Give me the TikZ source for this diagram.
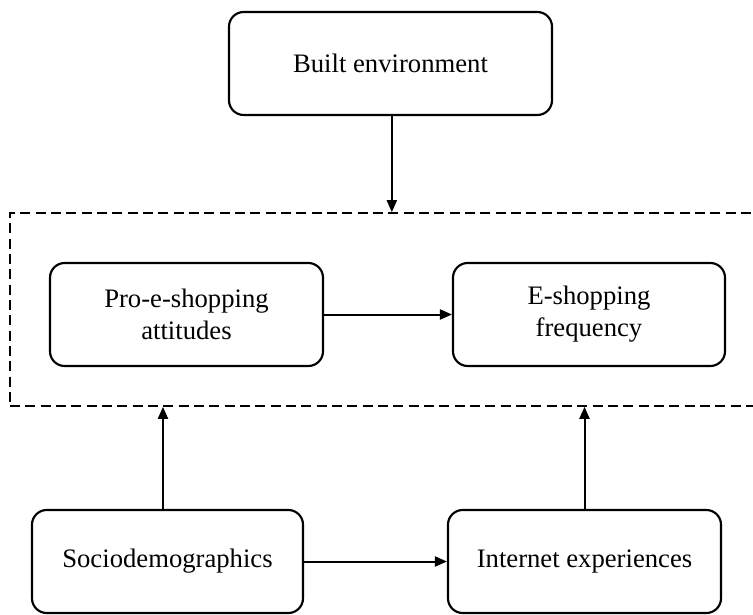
\documentclass[tikz,border=0pt]{standalone}
\usepackage{fontspec}
\setmainfont{Liberation Serif}
\usetikzlibrary{arrows.meta}
\begin{document}
\begin{tikzpicture}[x=0.75pt,y=-0.75pt,
  box/.style={draw, line width=1.6pt, rounded corners=11pt, align=center,
    font=\fontsize{20}{24}\selectfont, inner sep=0pt},
  frame/.style={draw, line width=1.2pt, dash pattern=on 7.5pt off 4pt, inner sep=0pt},
  link/.style={line width=1.5pt, -{Triangle[length=9pt,width=7.5pt]}}]
\useasboundingbox (0,0) rectangle (753,614);
\clip (0,0) rectangle (753,614);
% boxes
\node[box, minimum width=323*0.75pt, minimum height=103*0.75pt] (built) at (390.5,63.5) {Built environment};
\node[frame, minimum width=780*0.75pt, minimum height=193*0.75pt] (frame) at (400,309.5) {};
\node[box, minimum width=273*0.75pt, minimum height=103*0.75pt] (pro) at (186.5,314.5) {Pro-e-shopping\\attitudes};
\node[box, minimum width=272*0.75pt, minimum height=103*0.75pt] (freq) at (589,314.5) {E-shopping\\frequency};
\node[box, minimum width=271*0.75pt, minimum height=103*0.75pt] (socio) at (167.5,561.5) {Sociodemographics};
\node[box, minimum width=273*0.75pt, minimum height=103*0.75pt] (inet) at (584.5,561.5) {Internet experiences};
% connectors
\draw[link] ([xshift=1pt]built.south) -- ([xshift=1pt]built.south |- frame.north);
\draw[link] (pro) -- (freq);
\draw[link] (socio) -- (inet);
\draw[link] ([xshift=-3.4pt]socio.north) -- ([xshift=-3.4pt]socio.north |- frame.south);
\draw[link] (inet.north) -- (inet.north |- frame.south);
\end{tikzpicture}
\end{document}
